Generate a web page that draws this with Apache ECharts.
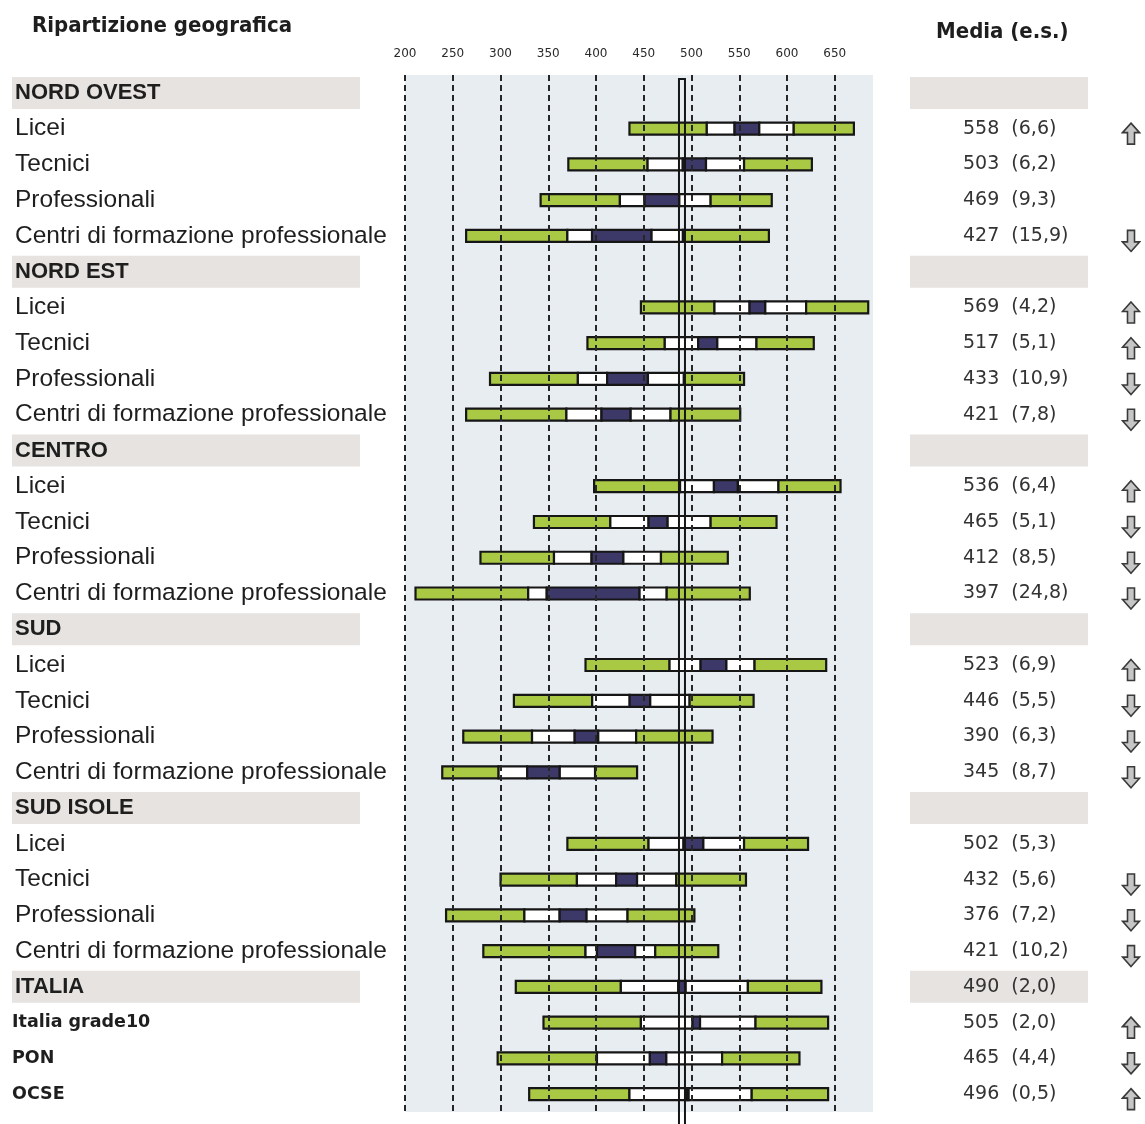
<!DOCTYPE html>
<html><head><meta charset="utf-8">
<script src="https://cdn.jsdelivr.net/npm/echarts@6/dist/echarts.min.js"></script>
<style>html,body{margin:0;padding:0;background:#fff}#c{width:1145px;height:1124px}</style>
</head><body><div id="c"></div>
<script>
// ---- data ----
const categories = [
  'NORD OVEST','Licei','Tecnici','Professionali','Centri di formazione professionale',
  'NORD EST','Licei','Tecnici','Professionali','Centri di formazione professionale',
  'CENTRO','Licei','Tecnici','Professionali','Centri di formazione professionale',
  'SUD','Licei','Tecnici','Professionali','Centri di formazione professionale',
  'SUD ISOLE','Licei','Tecnici','Professionali','Centri di formazione professionale',
  'ITALIA','Italia grade10','PON','OCSE'
];
const rowKind = [
  'h','s','s','s','s', 'h','s','s','s','s', 'h','s','s','s','s',
  'h','s','s','s','s', 'h','s','s','s','s', 'H','b','b','b'
];
const p5   = [null,435,371,342,264, null,447,391,289,264, null,398,335,279,211, null,389,314,261,239, null,370,300,243,282, 316,345,297,330];
const p25  = [null,516,454,425,370, null,524,472,381,369, null,488,415,356,329, null,477,396,333,298, null,455,380,325,389, 426,447,401,435];
const mean = [null,558,503,469,427, null,569,517,433,421, null,536,465,412,397, null,523,446,390,345, null,502,432,376,421, 490,505,465,496];
const se   = [null,6.6,6.2,9.3,15.9, null,4.2,5.1,10.9,7.8, null,6.4,5.1,8.5,24.8, null,6.9,5.5,6.3,8.7, null,5.3,5.6,7.2,10.2, 2.0,2.0,4.4,0.5];
const p75  = [null,607,555,520,491, null,620,568,492,478, null,591,520,468,474, null,566,498,442,399, null,555,484,433,462, 559,567,532,563];
const p95  = [null,670,626,584,581, null,685,628,555,551, null,656,589,538,561, null,641,565,522,443, null,622,557,503,528, 636,643,613,643];
const trend = ['', 'up','','','down', '', 'up','up','down','down', '', 'up','down','down','down',
               '', 'up','down','down','down', '', '','down','down','down', '', 'up','down','up'];
const tickValues = [200,250,300,350,400,450,500,550,600,650];

// ---- build ----
const GREEN = '#a9c843', WHITE = '#ffffff', DARK = '#3c3868', EDGE = '#161616';
const barData = [];
categories.forEach((c, i) => {
  if (p5[i] == null) return;
  const lo = mean[i] - 1.96 * se[i], hi = mean[i] + 1.96 * se[i];
  barData.push([i, p5[i], p25[i], lo, hi, p75[i], p95[i]]);
});
const italiaMean = mean[categories.indexOf('ITALIA')];
const fmtSe = v => v.toFixed(1).replace('.', ',');

const arrowSvg = up => 'data:image/svg+xml;charset=utf-8,' + encodeURIComponent(
  '<svg xmlns="http://www.w3.org/2000/svg" width="20" height="24" viewBox="0 0 20 24">' +
  '<g transform="' + (up ? '' : 'translate(0,24) scale(1,-1)') + '">' +
  '<polygon points="10,1.5 18.5,11 13.5,11 13.5,22.5 6.5,22.5 6.5,11 1.5,11" fill="#c6c6c6" stroke="#3a3a3a" stroke-width="1.6"/>' +
  '</g></svg>');

function renderBar(params, api) {
  const row = api.value(0);
  const xs = [1,2,3,4,5,6].map(k => api.coord([api.value(k), row])[0]);
  const cy = api.coord([api.value(1), row])[1];
  const h = 12;
  const fills = [GREEN, WHITE, DARK, WHITE, GREEN];
  return {
    type: 'group',
    children: fills.map((f, k) => ({
      type: 'rect',
      shape: {x: xs[k], y: cy - h / 2, width: xs[k + 1] - xs[k], height: h},
      style: {fill: f, stroke: EDGE, lineWidth: 2.2}
    }))
  };
}
function renderRef(params, api) {
  const cx = api.coord([api.value(0), 0])[0];
  const cs = params.coordSys;
  return {
    type: 'rect',
    shape: {x: cx - 3, y: cs.y + 4, width: 6, height: cs.height + 14},
    style: {fill: 'none', stroke: EDGE, lineWidth: 2}
  };
}

const chart = echarts.init(document.getElementById('c'), null, {renderer: 'canvas'});
chart.setOption({
  animation: false,
  backgroundColor: '#ffffff',
  title: [
    {text: 'Ripartizione geografica', left: 27, top: 10,
     textStyle: {fontFamily: 'DejaVu Sans Condensed, DejaVu Sans', fontWeight: 'bold', fontSize: 22, color: '#1e1e1e'}},
    {text: 'Media (e.s.)', left: 931, top: 16,
     textStyle: {fontFamily: 'DejaVu Sans Condensed, DejaVu Sans', fontWeight: 'bold', fontSize: 22, color: '#1e1e1e'}}
  ],
  grid: {left: 405, right: 272, top: 75, height: 1037, show: true, backgroundColor: '#e8edf2', borderWidth: 0},
  xAxis: {
    type: 'value', position: 'top', min: 200, max: 690, interval: 50,
    axisLine: {show: false}, axisTick: {show: false}, splitLine: {show: false},
    axisLabel: {margin: 15, showMaxLabel: false, color: '#2a2a2a', fontFamily: 'DejaVu Sans', fontSize: 12}
  },
  yAxis: [
    {
      type: 'category', data: categories, inverse: true, position: 'left',
      axisLine: {show: false}, axisTick: {show: false}, splitLine: {show: false},
      axisLabel: {
        align: 'left', margin: 393, interval: 0,
        formatter: (v, i) => {
          const k = rowKind[i];
          if (k === 'h' || k === 'H') return '{h|' + v + '}';
          if (k === 'b') return '{b|' + v + '}';
          return '{s|' + v + '}';
        },
        rich: {
          h: {fontFamily: 'Liberation Sans', fontWeight: 'bold', fontSize: 22, color: '#1e1e1e',
              backgroundColor: '#e6e3e0', width: 345, height: 32, lineHeight: 32, padding: [0, 0, 0, 3]},
          s: {fontFamily: 'Liberation Sans', fontSize: 24.5, color: '#1e1e1e', padding: [0, 0, 0, 3]},
          b: {fontFamily: 'DejaVu Sans', fontWeight: 'bold', fontSize: 17.5, color: '#1e1e1e', padding: [0, 0, 0, 0]}
        }
      }
    },
    {
      type: 'category', data: categories, inverse: true, position: 'right',
      axisLine: {show: false}, axisTick: {show: false}, splitLine: {show: false},
      axisLabel: {
        align: 'right', margin: 215, interval: 0,
        formatter: (v, i) => {
          const k = rowKind[i];
          const txt = mean[i] == null ? ' ' : mean[i] + '  (' + fmtSe(se[i]) + ')';
          if (k === 'h' || k === 'H') return '{hv|' + txt + '}';
          return '{v|' + txt + '}';
        },
        rich: {
          hv: {fontFamily: 'DejaVu Sans', fontSize: 19, color: '#333', align: 'left',
               backgroundColor: '#e6e3e0', width: 125, height: 32, lineHeight: 32, padding: [0, 0, 0, 53]},
          v: {fontFamily: 'DejaVu Sans', fontSize: 19, color: '#333', align: 'left',
              width: 125, padding: [0, 0, 0, 55]}
        }
      }
    },
    {
      type: 'category', data: categories, inverse: true, position: 'right',
      axisLine: {show: false}, axisTick: {show: false}, splitLine: {show: false},
      axisLabel: {
        align: 'center', margin: 258, interval: 0, padding: [10, 0, 0, 0],
        formatter: (v, i) => trend[i] === 'up' ? '{up| }' : trend[i] === 'down' ? '{dn| }' : '',
        rich: {
          up: {width: 20, height: 24, lineHeight: 24, backgroundColor: {image: arrowSvg(true)}},
          dn: {width: 20, height: 24, lineHeight: 24, backgroundColor: {image: arrowSvg(false)}}
        }
      }
    }
  ],
  series: [
    {
      type: 'line', data: [], silent: true, z: 1,
      markLine: {
        silent: true, symbol: 'none', label: {show: false},
        lineStyle: {color: '#262626', type: [6, 4], width: 2},
        data: tickValues.map(t => ({xAxis: t}))
      }
    },
    {
      type: 'custom', name: 'bars', z: 3, renderItem: renderBar,
      encode: {x: [1, 2, 3, 4, 5, 6], y: 0}, data: barData
    },
    {
      type: 'custom', name: 'italia', z: 4, renderItem: renderRef,
      encode: {x: 0, y: 1}, data: [[italiaMean, 0]]
    }
  ]
});
</script>
</body></html>
